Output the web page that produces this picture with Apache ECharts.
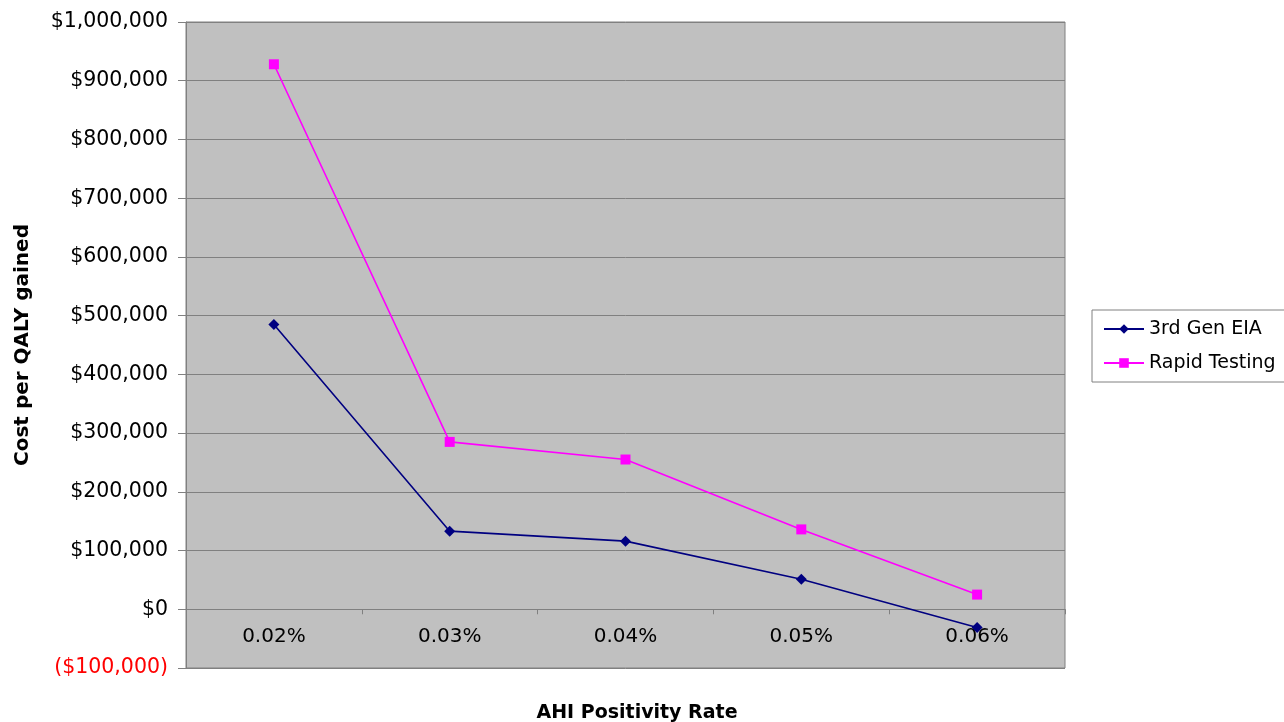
<!DOCTYPE html>
<html>
<head>
<meta charset="utf-8">
<script src="https://cdn.jsdelivr.net/npm/echarts@6/dist/echarts.min.js"></script>
<style>
html,body{margin:0;padding:0;background:#fff;}
#c{width:1284px;height:722px;}
</style>
</head>
<body>
<div id="c"></div>
<script>
const categories = ['0.02%', '0.03%', '0.04%', '0.05%', '0.06%'];
const eia3rdGen = [485000, 133000, 116000, 51000, -31000];
const rapidTesting = [928000, 285000, 255000, 136000, 25000];
const yMin = -100000, yMax = 1000000, yStep = 100000;

function fmtMoney(v) {
  const s = '$' + Math.abs(v).toLocaleString('en-US');
  return v < 0 ? '{neg|(' + s + ')}' : s;
}

const chart = echarts.init(document.getElementById('c'));
chart.setOption({
  animation: false,
  backgroundColor: '#ffffff',
  textStyle: { fontFamily: 'DejaVu Sans' },
  grid: {
    left: 186, right: 219, top: 22, bottom: 54,
    show: true, backgroundColor: '#c0c0c0', borderColor: '#808080', borderWidth: 1,
    containLabel: false,
    outerBoundsMode: 'none'
  },
  legend: {
    orient: 'vertical',
    left: 1092, top: 310,
    padding: [9, 10, 9, 11],
    backgroundColor: '#ffffff',
    borderColor: '#808080', borderWidth: 1,
    itemWidth: 40, itemHeight: 12, itemGap: 14,
    textStyle: { fontFamily: 'DejaVu Sans', fontSize: 19, color: '#000', lineHeight: 20 },
    data: ['3rd Gen EIA', 'Rapid Testing']
  },
  xAxis: {
    type: 'category',
    data: categories,
    boundaryGap: true,
    name: 'AHI Positivity Rate',
    nameLocation: 'middle',
    nameGap: 36,
    nameMoveOverlap: false,
    nameTextStyle: { fontFamily: 'DejaVu Sans', fontWeight: 'bold', fontSize: 19, color: '#000', padding: [0, 0, 0, 23] },
    axisLine: { onZero: true, lineStyle: { color: '#808080', width: 1 } },
    axisTick: { show: true, length: 5, inside: false, lineStyle: { color: '#808080' } },
    axisLabel: { fontFamily: 'DejaVu Sans', fontSize: 20, color: '#000', margin: -41 },
    splitLine: { show: false }
  },
  yAxis: {
    type: 'value',
    min: yMin, max: yMax, interval: yStep,
    name: 'Cost per QALY gained',
    nameLocation: 'middle',
    nameGap: 153,
    nameRotate: 90,
    nameTextStyle: { fontFamily: 'DejaVu Sans', fontWeight: 'bold', fontSize: 20, color: '#000' },
    axisLine: { show: true, lineStyle: { color: '#808080', width: 1 } },
    axisTick: { show: true, length: 8, lineStyle: { color: '#808080' } },
    axisLabel: {
      fontFamily: 'DejaVu Sans', fontSize: 20.5, color: '#000', margin: 18,
      formatter: fmtMoney,
      rich: { neg: { color: '#ff0000', fontFamily: 'DejaVu Sans', fontSize: 20.5 } }
    },
    splitLine: { show: true, lineStyle: { color: '#808080', width: 1 } }
  },
  series: [
    {
      name: '3rd Gen EIA', type: 'line', data: eia3rdGen,
      symbol: 'diamond', symbolSize: 11,
      lineStyle: { color: '#000080', width: 1.6 },
      itemStyle: { color: '#000080' }
    },
    {
      name: 'Rapid Testing', type: 'line', data: rapidTesting,
      symbol: 'rect', symbolSize: 10,
      lineStyle: { color: '#ff00ff', width: 1.6 },
      itemStyle: { color: '#ff00ff' }
    }
  ]
});
</script>
</body>
</html>
